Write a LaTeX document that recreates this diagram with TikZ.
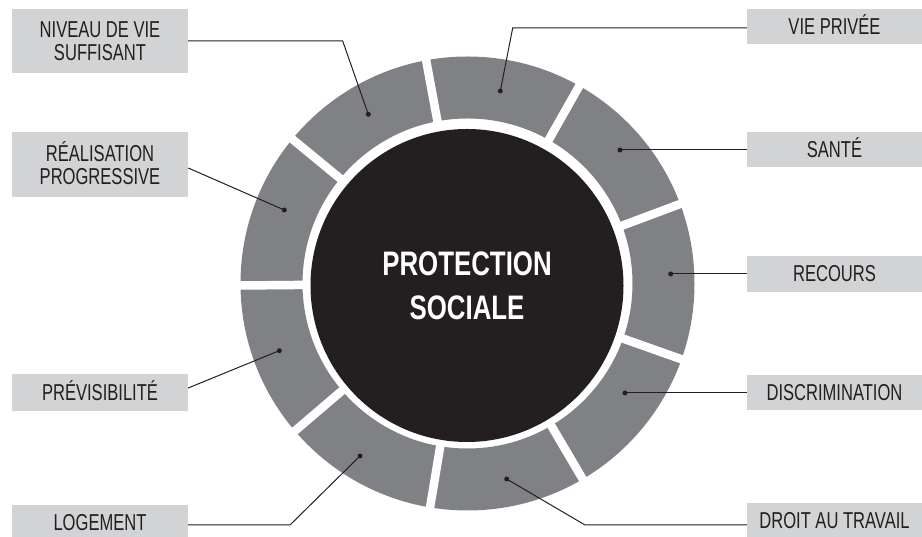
\documentclass[tikz,border=0pt]{standalone}
\usepackage{fontspec}
\newfontfamily\lblfont[FakeStretch=0.72]{Liberation Sans}
\newfontfamily\ttlfont[FakeStretch=0.76]{Liberation Sans Bold}
\definecolor{ringgrey}{HTML}{808184}
\definecolor{boxgrey}{HTML}{D1D3D4}
\definecolor{inkblack}{HTML}{231F20}
\tikzset{
  labelbox/.style={rectangle, fill=boxgrey, inner sep=0pt, text=inkblack,
    align=center, font=\lblfont\fontsize{23}{23.3}\selectfont,
    text height=16.5pt, text depth=0pt},
  twolines/.style={text height=39.8pt},
  leftbox/.style={labelbox, minimum width=176pt},
  rightbox/.style={labelbox, minimum width=175pt},
  leader/.style={draw=inkblack, line width=1pt},
  pin/.style={circle, fill=inkblack, inner sep=0pt, minimum size=5pt},
  gap/.style={draw=white, line width=8.5pt},
}
\begin{document}
\begin{tikzpicture}[x=1pt, y=1pt]
\useasboundingbox (0,0) rectangle (922,537);

% segmented ring around the core
\begin{scope}[shift={(467.5,253.5)}]
  \fill[ringgrey, even odd rule] (0,0) circle (227) (0,0) circle (165);
  \foreach \a in {20.5,60.5,...,340.5}
    \draw[gap] (\a:150) -- (\a:235);
\end{scope}

% central disc
\node[circle, fill=inkblack, minimum size=313pt, inner sep=0pt, text=white,
  align=center, font=\ttlfont\fontsize{34}{43.3}\selectfont,
  text height=67.6pt, text depth=0pt]
  (core) at (467,251.5) {PROTECTION\\SOCIALE};

% anchor points on the ring segments
\node[pin] (dniv) at (368.3,422.7) {};
\node[pin] (dreal) at (284.3,327) {};
\node[pin] (dprev) at (279.3,186.3) {};
\node[pin] (dloge) at (360,81) {};
\node[pin] (dvie) at (500.3,446) {};
\node[pin] (dsante) at (620,387) {};
\node[pin] (drec) at (670.7,263) {};
\node[pin] (ddisc) at (625,144) {};
\node[pin] (ddroit) at (506.7,58) {};

% label boxes, left column
\node[leftbox, twolines, minimum height=64pt] (niv) at (100,496) {NIVEAU DE VIE\\SUFFISANT};
\node[leftbox, twolines, minimum height=65pt] (real) at (100,372.5) {RÉALISATION\\PROGRESSIVE};
\node[leftbox, minimum height=37pt] (prev) at (100,144.5) {PRÉVISIBILITÉ};
\node[leftbox, minimum height=35pt] (loge) at (100,14.5) {LOGEMENT};

% label boxes, right column
\node[rightbox, minimum height=35pt] (vie) at (834.5,510.5) {VIE PRIVÉE};
\node[rightbox, minimum height=35pt] (sante) at (834.5,387.5) {SANTÉ};
\node[rightbox, minimum height=36pt] (rec) at (834.5,263.3) {RECOURS};
\node[rightbox, minimum height=35pt] (disc) at (834.5,144.5) {DISCRIMINATION};
\node[rightbox, minimum height=35pt] (droit) at (834.5,16.5) {DROIT AU TRAVAIL};

% bend points of the elbowed leaders
\coordinate (kniv) at (342.7,496);
\coordinate (kvie) at (512.7,509);
\coordinate (kloge) at (290,12);
\coordinate (kdroit) at (585,12);

% leaders
\draw[leader] (niv.east) -- (kniv) -- (dniv.center);
\draw[leader] ([yshift=-3.5pt]real.east) -- (dreal.center);
\draw[leader] ([yshift=4.5pt]prev.east) -- (dprev.center);
\draw[leader] ([yshift=-2.5pt]loge.east) -- (kloge) -- (dloge.center);
\draw[leader] ([yshift=-1.5pt]vie.west) -- (kvie) -- (dvie.center);
\draw[leader] ([yshift=-0.5pt]sante.west) -- (dsante.center);
\draw[leader] (rec.west |- drec) -- (drec.center);
\draw[leader] (disc.west |- ddisc) -- (ddisc.center);
\draw[leader] ([yshift=-4.5pt]droit.west) -- (kdroit) -- (ddroit.center);
\end{tikzpicture}
\end{document}
